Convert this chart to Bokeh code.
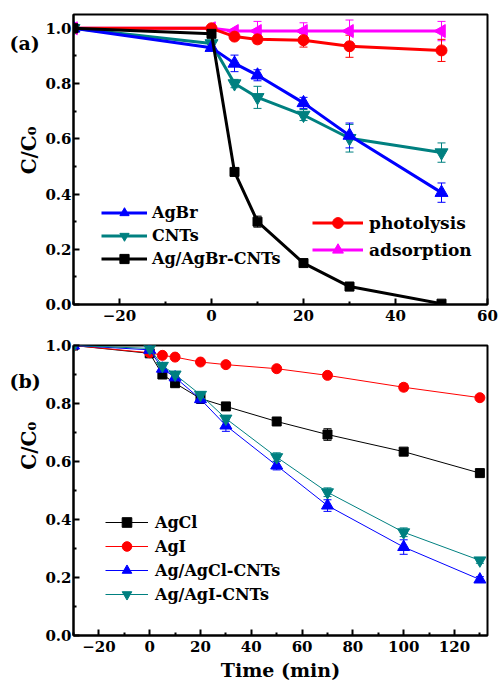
import math
from bokeh.plotting import figure
from bokeh.layouts import column, row
from bokeh.models import (ColumnDataSource, Whisker, TeeHead, Legend, LegendItem,
                          FixedTicker, Range1d, Label, PrintfTickFormatter)
from bokeh.embed import file_html
from bokeh.resources import INLINE

FONT = "DejaVu Serif"

# ---------------- data panel (a) ----------------
t_a = [-30, 0, 5, 10, 20, 30, 50]
agbr = [1.0, 0.93, 0.873, 0.83, 0.73, 0.612, 0.405]
agbr_err = [0.0, 0.01, 0.03, 0.02, 0.02, 0.045, 0.035]
cnts = [1.0, 0.945, 0.80, 0.75, 0.686, 0.602, 0.55]
cnts_err = [0.0, 0.01, 0.015, 0.04, 0.02, 0.05, 0.035]
agbr_cnts = [1.0, 0.98, 0.48, 0.30, 0.15, 0.065, 0.003]
agbr_cnts_err = [0.0, 0.005, 0.01, 0.02, 0.012, 0.015, 0.005]
photolysis = [1.0, 1.0, 0.97, 0.96, 0.957, 0.935, 0.92]
photolysis_err = [0.0, 0.005, 0.01, 0.015, 0.025, 0.04, 0.04]
adsorption = [1.0, 1.0, 0.99, 0.99, 0.99, 0.99, 0.99]
adsorption_err = [0.0, 0.0, 0.005, 0.035, 0.03, 0.04, 0.035]

# ---------------- data panel (b) ----------------
t_b = [-30, 0, 5, 10, 20, 30, 50, 70, 100, 130]
agcl = [1.0, 0.973, 0.90, 0.87, 0.817, 0.79, 0.738, 0.693, 0.634, 0.56]
agcl_err = [0.0, 0.005, 0.01, 0.01, 0.01, 0.01, 0.01, 0.02, 0.01, 0.01]
agi = [1.0, 0.975, 0.966, 0.96, 0.943, 0.934, 0.92, 0.897, 0.856, 0.82]
agi_err = [0.0, 0.005, 0.005, 0.005, 0.005, 0.005, 0.005, 0.005, 0.012, 0.008]
ag_agcl_cnts = [1.0, 0.985, 0.92, 0.89, 0.815, 0.724, 0.586, 0.448, 0.305, 0.193]
ag_agcl_cnts_err = [0.0, 0.005, 0.01, 0.01, 0.015, 0.02, 0.015, 0.02, 0.025, 0.01]
ag_agi_cnts = [1.0, 0.99, 0.93, 0.90, 0.83, 0.748, 0.615, 0.494, 0.356, 0.259]
ag_agi_cnts_err = [0.0, 0.005, 0.01, 0.01, 0.01, 0.01, 0.015, 0.015, 0.015, 0.01]

xt_a = [-20, 0, 20, 40, 60]
xt_a_minor = [-30, -10, 10, 30, 50]
xt_b = [-20, 0, 20, 40, 60, 80, 100, 120]
xt_b_minor = [-30, -10, 10, 30, 50, 70, 90, 110, 130]
yt = [0.0, 0.2, 0.4, 0.6, 0.8, 1.0]
yt_minor = [0.1, 0.3, 0.5, 0.7, 0.9]

STRIP_W = 42


def make_fig(xr, yr, xticks, xminor, bottom, top, xlabel=None):
    p = figure(frame_width=414, frame_height=290, output_backend="svg",
               toolbar_location=None, x_range=Range1d(*xr), y_range=Range1d(*yr),
               min_border_left=73 - STRIP_W, min_border_right=11,
               min_border_top=top, min_border_bottom=bottom)
    p.grid.visible = False
    p.outline_line_color = "black"
    p.outline_line_width = 2
    p.background_fill_color = "white"
    p.border_fill_color = "white"
    p.xaxis.ticker = FixedTicker(ticks=xticks, minor_ticks=xminor)
    p.yaxis.ticker = FixedTicker(ticks=yt, minor_ticks=yt_minor)
    p.yaxis.formatter = PrintfTickFormatter(format="%.1f")
    for ax in (p.xaxis[0], p.yaxis[0]):
        ax.axis_line_width = 2
        ax.axis_line_color = "black"
        ax.major_tick_in = 6
        ax.major_tick_out = 0
        ax.minor_tick_in = 3
        ax.minor_tick_out = 0
        ax.major_tick_line_width = 2
        ax.minor_tick_line_width = 2
        ax.major_label_text_font = FONT
        ax.major_label_text_font_style = "bold"
        ax.major_label_text_font_size = "15px"
        ax.major_label_text_color = "black"
        ax.axis_label_text_font = FONT
        ax.axis_label_text_font_style = "bold"
        ax.axis_label_text_font_size = "19px"
        ax.axis_label_text_color = "black"
    p.yaxis.major_label_standoff = 2
    p.xaxis.major_label_standoff = 5
    if xlabel:
        p.xaxis.axis_label = xlabel
        p.xaxis.axis_label_standoff = 4
    return p


def make_strip(height, panel, panel_y, ylab_y):
    s = figure(width=STRIP_W, height=height, output_backend="svg", toolbar_location=None,
               x_range=Range1d(0, STRIP_W), y_range=Range1d(height, 0),
               x_axis_type=None, y_axis_type=None, min_border=0)
    s.grid.visible = False
    s.outline_line_color = None
    s.add_layout(Label(x=9, y=panel_y, text=panel, text_font=FONT,
                       text_font_style="bold", text_font_size="19px",
                       text_baseline="middle", text_align="left", text_color="black"))
    s.add_layout(Label(x=28, y=ylab_y, text="C/C₀", angle=math.pi / 2,
                       text_font=FONT, text_font_style="bold", text_font_size="20px",
                       text_baseline="middle", text_align="center", text_color="black"))
    return s


def series(p, x, y, err, color, marker, size, lw, angle=0.0):
    src = ColumnDataSource(dict(x=x, y=y,
                                lo=[a - e for a, e in zip(y, err)],
                                hi=[a + e for a, e in zip(y, err)]))
    w = Whisker(source=src, base="x", lower="lo", upper="hi",
                line_color=color, line_width=1,
                upper_head=TeeHead(size=8, line_color=color, line_width=1),
                lower_head=TeeHead(size=8, line_color=color, line_width=1))
    p.add_layout(w)
    ln = p.line("x", "y", source=src, line_color=color, line_width=lw)
    sc = p.scatter("x", "y", source=src, marker=marker, size=size,
                   fill_color=color, line_color=color, angle=angle)
    return [ln, sc]


def legend(p, items, loc, gw, lh, standoff, fs="16px"):
    lg = Legend(items=[LegendItem(label=l, renderers=r) for l, r in items],
                location=loc, orientation="vertical",
                glyph_width=gw, glyph_height=lh, label_height=lh,
                label_standoff=standoff, spacing=0, padding=0, margin=0,
                border_line_color=None, background_fill_alpha=0,
                label_text_font=FONT, label_text_font_style="bold",
                label_text_font_size=fs, label_text_color="black")
    p.add_layout(lg, "center")


# ---------------- panel (a) ----------------
p1 = make_fig((-30, 60), (0, 1.05), xt_a, xt_a_minor, bottom=31, top=14)
r_ads = series(p1, t_a, adsorption, adsorption_err, "#FF00FF", "triangle", 13, 3, angle=math.pi / 2)
r_phot = series(p1, t_a, photolysis, photolysis_err, "#FF0000", "circle", 11, 3)
r_cnts = series(p1, t_a, cnts, cnts_err, "#008080", "inverted_triangle", 13, 3)
r_agbr = series(p1, t_a, agbr, agbr_err, "#0000FF", "triangle", 13, 3)
r_abc = series(p1, t_a, agbr_cnts, agbr_cnts_err, "black", "square", 9, 3)
legend(p1, [("AgBr", r_agbr), ("CNTs", r_cnts), ("Ag/AgBr-CNTs", r_abc)],
       (28, 34), 46, 23, 5)
legend(p1, [("photolysis", r_phot), ("adsorption", r_ads)],
       (239, 41), 51, 27, 6, fs="17px")
s1 = make_strip(335, "(a)", 33, 157)

# ---------------- panel (b) ----------------
p2 = make_fig((-30, 133), (0, 1.0), xt_b, xt_b_minor, bottom=50, top=10,
              xlabel="Time (min)")
r_agcl = series(p2, t_b, agcl, agcl_err, "black", "square", 9, 1)
r_agi = series(p2, t_b, agi, agi_err, "#FF0000", "circle", 10, 1)
r_agcl_c = series(p2, t_b, ag_agcl_cnts, ag_agcl_cnts_err, "#0000FF", "triangle", 12, 1)
r_agi_c = series(p2, t_b, ag_agi_cnts, ag_agi_cnts_err, "#008080", "inverted_triangle", 12, 1)
legend(p2, [("AgCl", r_agcl), ("AgI", r_agi), ("Ag/AgCl-CNTs", r_agcl_c),
            ("Ag/AgI-CNTs", r_agi_c)], (32, 29), 43, 24, 7)
s2 = make_strip(350, "(b)", 378 - 335, 456 - 335)

layout = column(row(s1, p1, spacing=0), row(s2, p2, spacing=0), spacing=0)
open("out.html", "w").write(file_html(layout, INLINE))
